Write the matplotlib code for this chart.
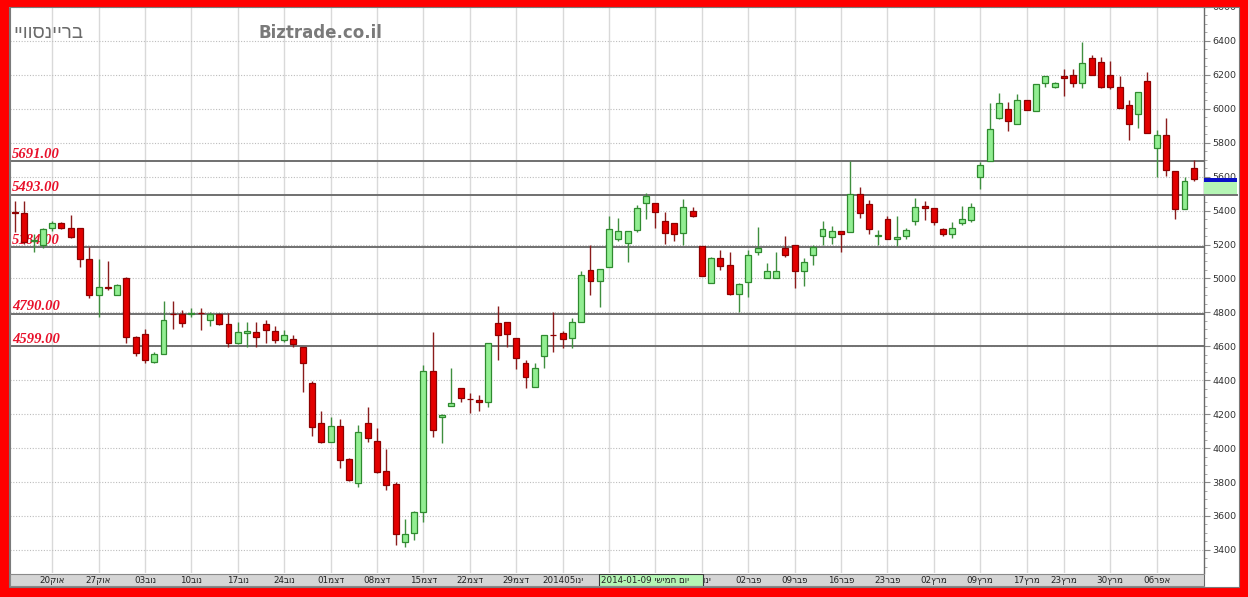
import matplotlib.pyplot as plt
import matplotlib.patches as mpatches
import matplotlib.transforms as mtransforms
from matplotlib.ticker import MultipleLocator
import numpy as np


# ---- data (daily candles, 14 Oct 2013 .. 10 Apr 2014, trading days only) ----
opens = [5389, 5383, 5222, 5200, 5295, 5328, 5295, 5298, 5112, 4905,
         4947, 4905, 5000, 4656, 4672, 4509, 4554, 4793, 4789, 4790,
         4797, 4758, 4793, 4729, 4617, 4676, 4685, 4729, 4691, 4636,
         4646, 4598, 4382, 4146, 4034, 4132, 3936, 3793, 4146, 4042,
         3865, 3787, 3449, 3498, 3626, 4457, 4186, 4248, 4357, 4290,
         4284, 4274, 4736, 4746, 4647, 4500, 4358, 4545, 4667, 4677,
         4647, 4742, 5048, 4987, 5070, 5231, 5207, 5286, 5447, 5447,
         5339, 5329, 5266, 5398, 5194, 4976, 5119, 5080, 4909, 4981,
         5158, 5001, 5001, 5178, 5198, 5046, 5139, 5251, 5247, 5280,
         5276, 5498, 5439, 5250, 5351, 5231, 5252, 5341, 5425, 5416,
         5290, 5262, 5325, 5345, 5600, 5695, 5948, 6000, 5909, 6050,
         5989, 6150, 6127, 6196, 6200, 6150, 6298, 6278, 6200, 6131,
         6023, 5972, 6164, 5771, 5846, 5636, 5410, 5649]
highs = [5458, 5458, 5265, 5295, 5340, 5332, 5373, 5300, 5186, 5116,
         5102, 4966, 5010, 4660, 4705, 4568, 4868, 4868, 4817, 4823,
         4823, 4803, 4799, 4799, 4744, 4744, 4744, 4758, 4721, 4695,
         4666, 4598, 4396, 4219, 4186, 4172, 3944, 4137, 4244, 4117,
         3995, 3802, 3582, 3630, 4490, 4687, 4200, 4474, 4357, 4323,
         4313, 4618, 4840, 4746, 4647, 4520, 4500, 4667, 4800, 4691,
         4765, 5044, 5197, 5056, 5371, 5355, 5282, 5433, 5502, 5447,
         5394, 5329, 5467, 5420, 5194, 5125, 5168, 5158, 4972, 5168,
         5306, 5089, 5158, 5251, 5198, 5119, 5198, 5341, 5310, 5280,
         5695, 5541, 5463, 5286, 5371, 5371, 5300, 5473, 5459, 5416,
         5300, 5330, 5427, 5447, 5689, 6036, 6092, 6042, 6086, 6050,
         6145, 6196, 6160, 6235, 6233, 6392, 6317, 6308, 6282, 6196,
         6052, 6097, 6215, 5875, 5944, 5636, 5600, 5699]
lows = [5275, 5206, 5157, 5177, 5280, 5290, 5240, 5068, 4882, 4774,
        4931, 4905, 4620, 4544, 4499, 4503, 4554, 4701, 4715, 4774,
        4699, 4719, 4723, 4597, 4613, 4597, 4597, 4617, 4620, 4627,
        4597, 4329, 4074, 4028, 4034, 3881, 3806, 3773, 4034, 3851,
        3753, 3429, 3419, 3458, 3567, 4068, 4028, 4248, 4274, 4205,
        4219, 4245, 4520, 4598, 4467, 4357, 4358, 4474, 4569, 4592,
        4592, 4742, 4903, 4830, 5070, 5223, 5095, 5276, 5349, 5296,
        5203, 5223, 5198, 5361, 5015, 4972, 5050, 4901, 4800, 4893,
        5139, 5001, 5001, 5125, 4942, 4956, 5080, 5198, 5204, 5158,
        5276, 5355, 5262, 5198, 5231, 5192, 5230, 5316, 5345, 5315,
        5250, 5240, 5316, 5335, 5528, 5695, 5940, 5869, 5909, 5993,
        5989, 6127, 6121, 6076, 6131, 6121, 6200, 6121, 6117, 6003,
        5816, 5889, 5856, 5600, 5606, 5349, 5410, 5577]
closes = [5388, 5216, 5226, 5289, 5328, 5300, 5245, 5112, 4905, 4951,
          4946, 4959, 4656, 4562, 4518, 4554, 4754, 4792, 4738, 4797,
          4796, 4793, 4729, 4617, 4685, 4691, 4656, 4699, 4636, 4666,
          4611, 4500, 4127, 4034, 4132, 3930, 3812, 4093, 4062, 3861,
          3783, 3492, 3492, 3626, 4457, 4105, 4196, 4268, 4294, 4289,
          4274, 4618, 4667, 4673, 4529, 4421, 4471, 4667, 4666, 4643,
          4742, 5021, 4985, 5056, 5290, 5282, 5282, 5416, 5486, 5394,
          5266, 5262, 5424, 5368, 5015, 5119, 5074, 4909, 4966, 5139,
          5182, 5046, 5042, 5139, 5046, 5097, 5184, 5290, 5280, 5262,
          5498, 5384, 5292, 5255, 5231, 5247, 5285, 5420, 5414, 5335,
          5262, 5300, 5351, 5420, 5669, 5879, 6033, 5928, 6052, 5993,
          6145, 6196, 6154, 6180, 6154, 6272, 6200, 6131, 6131, 6003,
          5911, 6097, 5856, 5846, 5640, 5408, 5575, 5585]

# first trading day of each week (candle index) and its label
week_idx = [4, 9, 14, 19, 24, 29, 34, 39, 44, 49, 54, 59, 64,
            69, 74, 79, 84, 89, 94, 99, 104, 109, 113, 118, 123]
week_day = ["20", "27", "03", "10", "17", "24", "01", "08", "15", "22", "29",
            "05", "12", "19", "26", "02", "09", "16", "23", "02", "09", "17",
            "23", "30", "06"]
week_mon = ["אוק", "אוק", "נוב", "נוב", "נוב", "נוב", "דצמ", "דצמ", "דצמ",
            "דצמ", "דצמ", "ינו", "ינו", "ינו", "ינו", "פבר", "פבר", "פבר",
            "פבר", "מרץ", "מרץ", "מרץ", "מרץ", "מרץ", "אפר"]
week_year = [""] * 11 + ["2014"] + [""] * 13

# support / resistance levels
levels = [5691.00, 5493.00, 5184.00, 4790.00, 4599.00]

# crosshair date box
hl_idx = 63
hl_date = "2014-01-09"
hl_day = "יום חמישי"
hl_span = 11.2

stock_name = "בריינסוויי"
site_name = "Biztrade.co.il"
last_band = (5493, 5570, 5595)


def rtl(s):
    # matplotlib has no bidi support: hand it the Hebrew in visual order
    return s[::-1]


W, H = 1248, 597
fig = plt.figure(figsize=(W / 100, H / 100), dpi=100, facecolor="white")

ax = fig.add_axes([10 / W, 1 - 573 / H, 1194 / W, 566 / H])
bax = fig.add_axes([10 / W, 1 - 586 / H, 1194 / W, 12 / H])

x = np.arange(len(opens))
o = np.array(opens, float)
h = np.array(highs, float)
l = np.array(lows, float)
c = np.array(closes, float)
up = c >= o

# grid
ax.set_xlim(-0.54, 128.1)
ax.set_ylim(3264, 6600)
ax.set_xticks(week_idx)
ax.grid(axis="x", color="#d9d9d9", linewidth=1, linestyle="-", zorder=0)
ax.yaxis.set_major_locator(MultipleLocator(200))
ax.yaxis.set_minor_locator(MultipleLocator(50))
ax.grid(axis="y", which="major", color="#bdbdbd", linewidth=0.8,
        linestyle=(0, (1, 1.5)), zorder=0)
ax.set_axisbelow(True)

ax.yaxis.tick_right()
ax.tick_params(axis="y", which="major", length=4, width=0.8, color="#8a8a8a",
               labelsize=6.8, labelcolor="#333333", pad=2)
ax.tick_params(axis="y", which="minor", length=2, width=0.6, color="#9a9a9a")
ax.tick_params(axis="x", length=0, labelbottom=False)
for side in ("top", "bottom"):
    ax.spines[side].set_visible(False)
ax.spines["left"].set_color("#7a7a7a")
ax.spines["right"].set_color("#6a6a6a")
ax.spines["right"].set_linewidth(1.0)

# level lines and their labels
blend = mtransforms.blended_transform_factory(ax.transAxes, ax.transData)
for v in levels:
    ax.axhline(v, color="#707070", linewidth=1.4, zorder=1)
    ax.annotate("{:.2f}".format(v), xy=(0, v), xycoords=blend,
                xytext=(1.5, 2.6), textcoords="offset points",
                ha="left", va="baseline", fontsize=10.5,
                family="Liberation Serif", fontweight="bold",
                fontstyle="italic", color="#e8102a", zorder=2)

# candles
wick_col = np.where(up, "#3f8f3f", "#8b1c1c")
ax.vlines(x, l, h, colors=wick_col, linewidth=1.0, zorder=3)
body_lo = np.minimum(o, c)
body_h = np.maximum(np.abs(c - o), 1.0)
ax.bar(x[up], body_h[up], bottom=body_lo[up], width=0.64,
       color="#92ee92", edgecolor="#2f8a2f", linewidth=0.9, zorder=4)
ax.bar(x[~up], body_h[~up], bottom=body_lo[~up], width=0.64,
       color="#e30000", edgecolor="#8e0000", linewidth=0.9, zorder=4)

# last price marker in the right margin
ax.add_patch(mpatches.Rectangle((1.0, last_band[0]), 0.028,
                                last_band[1] - last_band[0],
                                transform=blend, clip_on=False,
                                facecolor="#b4f5b4", edgecolor="none",
                                zorder=5))
ax.add_patch(mpatches.Rectangle((1.0, last_band[1]), 0.028,
                                last_band[2] - last_band[1],
                                transform=blend, clip_on=False,
                                facecolor="#0a10c8", edgecolor="none",
                                zorder=5))
ax.plot([1.0, 1.028], [last_band[0]] * 2, transform=blend, clip_on=False,
        color="#707070", linewidth=1.4, zorder=5)

# header texts
fig.text(13 / W, 1 - 33 / H, rtl(stock_name), fontsize=13.5,
         family=["Liberation Sans", "DejaVu Sans"], color="#6a6a6a",
         va="center", ha="left")
fig.text(258 / W, 1 - 33 / H, site_name, fontsize=12, fontweight="bold",
         color="#7a7a7a", va="center", ha="left")

# date band
bax.set_xlim(ax.get_xlim())
bax.set_ylim(0, 1)
bax.set_facecolor("#d5d5d5")
bax.set_xticks([])
bax.set_yticks([])
for side in ("left", "bottom", "top"):
    bax.spines[side].set_color("#8a8a8a")
bax.spines["right"].set_color("#6a6a6a")
for i, d, m, yr in zip(week_idx, week_day, week_mon, week_year):
    if hl_idx <= i <= hl_idx + hl_span - 2:
        continue  # hidden under the date box
    bax.text(i, 0.45, yr + d + rtl(m), ha="center", va="center",
             fontsize=6.3, color="#222222")
bax.add_patch(mpatches.Rectangle((hl_idx - 0.1, 0.0), hl_span, 1.0,
                                 facecolor="#b4f5b4", edgecolor="#3a3a3a",
                                 linewidth=0.8, zorder=5))
bax.text(hl_idx + 0.1, 0.45, hl_date + " " + rtl(hl_day), ha="left",
         va="center", fontsize=6.3, color="#222222", zorder=6)

# red frame
frame = [(0, 0, 9, H), (1239, 0, W - 1239, H), (0, 0, W, 10), (0, H - 7, W, 7)]
for fx, fy, fw, fh in frame:
    fig.patches.append(mpatches.Rectangle((fx / W, fy / H), fw / W, fh / H,
                                          transform=fig.transFigure,
                                          facecolor="#ff0000",
                                          edgecolor="none", zorder=20))
fig.patches.append(mpatches.Rectangle((9 / W, 10 / H), 1230 / W, 580 / H,
                                      transform=fig.transFigure,
                                      facecolor="none", edgecolor="#7a7a7a",
                                      linewidth=0.8, zorder=21))

fig.savefig("out.png", dpi=100)
